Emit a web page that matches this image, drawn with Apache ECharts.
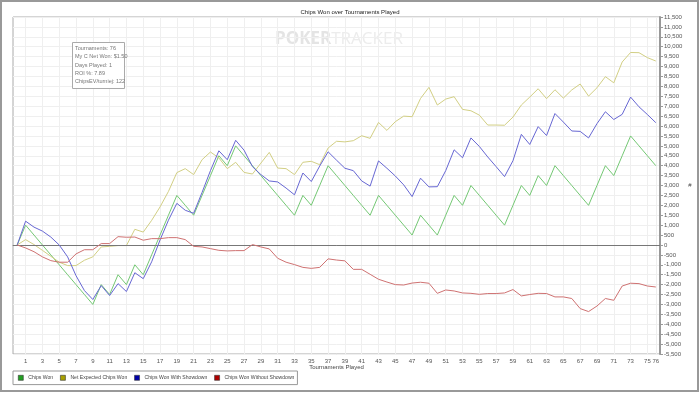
<!DOCTYPE html>
<html><head><meta charset="utf-8">
<script src="https://cdn.jsdelivr.net/npm/echarts@6/dist/echarts.min.js"></script>
<style>html,body{margin:0;padding:0;background:#fff}#c{width:700px;height:393px}</style>
</head><body><div id="c"></div>
<script>
const tournaments = Array.from({length: 77}, (_, i) => String(i));
const shownTicks = [1,3,5,7,9,11,13,15,17,19,21,23,25,27,29,31,33,35,37,39,41,43,45,47,49,51,53,55,57,59,61,63,65,67,69,71,73,75,76];

const chipsWon = [0,1000,500,0,-500,-1000,-1500,-2000,-2500,-3000,-2000,-2500,-1500,-2000,-1000,-1500,-500,500,1500,2500,
  2000,1500,2500,3500,4500,4000,5000,4500,4000,3500,3000,2500,2000,1500,2500,2000,3000,4000,3500,3000,
  2500,2000,1500,2500,2000,1500,1000,500,1500,1000,500,1500,2500,2000,3000,2500,2000,1500,1000,2000,
  3000,2500,3500,3000,4000,3500,3000,2500,2000,3000,4000,3500,4500,5500,5000,4500,4000];
const netExpected = [0,270,20,-270,-570,-870,-1040,-1040,-770,-600,-100,-70,-30,-30,790,650,1240,1920,2700,3650,
  3850,3550,4300,4690,4390,3850,4170,3660,3580,4130,4670,3880,3850,3550,4170,4220,4050,4890,5230,5200,
  5260,5510,5380,6180,5780,6220,6500,6470,7390,7950,7060,7360,7480,6840,6770,6550,6050,6050,6040,6450,
  7060,7460,7880,7380,7830,7410,7820,8120,7510,7930,8490,8180,9230,9710,9700,9450,9280];
const withShowdown = [0,1200,900,700,400,0,-600,-1550,-2300,-2750,-2050,-2550,-1950,-2350,-1400,-1700,-850,250,1250,2100,
  1750,1600,2650,3750,4750,4300,5280,4780,3950,3550,3230,3180,2870,2530,3630,3200,3980,4700,4280,3870,
  3750,3230,2970,4240,3870,3480,3030,2440,3370,2930,2940,3750,4800,4400,5400,4970,4440,3950,3450,4250,
  5580,5070,5970,5520,6630,6200,5750,5730,5400,6120,6720,6330,6590,7460,6970,6580,6170];
const withoutShowdown = [0,-150,-340,-600,-790,-870,-870,-450,-240,-240,70,70,420,390,400,240,320,320,370,370,
  270,-70,-100,-185,-270,-300,-285,-285,20,-100,-200,-670,-870,-990,-1130,-1180,-1130,-700,-760,-800,
  -1230,-1230,-1480,-1730,-1870,-2000,-2020,-1920,-1880,-1930,-2440,-2270,-2320,-2420,-2440,-2490,-2450,-2450,-2420,-2250,
  -2570,-2500,-2440,-2450,-2620,-2620,-2700,-3210,-3360,-3080,-2700,-2790,-2070,-1930,-1950,-2070,-2120];

const seriesNames = ['Chips Won','Net Expected Chips Won','Chips Won With Showdown','Chips Won Without Showdown'];
const infoLines = ['Tournaments: 76','My C Net Won: $1.50','Days Played: 1','ROI %: 7.89','ChipsEV/turniej: 122'];

const FF = 'Liberation Sans, Arial, sans-serif';
const lineColors = ['#74c874','#d2cf84','#6767d3','#cf7272'];
const legendColors = ['#22a022','#a8a000','#0000a8','#b00000'];
const tickFn = (idx) => shownTicks.indexOf(idx) !== -1;

const chart = echarts.init(document.getElementById('c'), null, {renderer: 'canvas'});
const datasets = [chipsWon, netExpected, withShowdown, withoutShowdown];

chart.setOption({
  animation: false,
  backgroundColor: '#fff',
  title: {
    text: 'Chips Won over Tournaments Played', left: 'center', top: 4,
    textStyle: {fontSize: 6, fontWeight: 'normal', color: '#222', fontFamily: FF}
  },
  grid: {left: 13, right: 40, top: 17, bottom: 39, show: true, borderColor: '#aaa', borderWidth: 1, containLabel: false},
  legend: {
    left: 13, top: 371, icon: 'rect', itemWidth: 5, itemHeight: 5, itemGap: 7,
    borderColor: '#999', borderWidth: 1, padding: [4, 3, 4, 5],
    textStyle: {fontSize: 5.1, color: '#444', fontFamily: FF},
    data: seriesNames.map((n, i) => ({name: n, itemStyle: {color: legendColors[i], borderColor: '#333', borderWidth: 0.6}}))
  },
  xAxis: {
    type: 'category', data: tournaments, boundaryGap: true,
    name: 'Tournaments Played', nameLocation: 'middle', nameGap: 10, nameMoveOverlap: false,
    nameTextStyle: {fontSize: 6, color: '#444', fontFamily: FF},
    axisLine: {lineStyle: {color: '#999', width: 1}},
    axisTick: {alignWithLabel: true, interval: tickFn, length: 3, lineStyle: {color: '#999'}},
    axisLabel: {interval: tickFn, fontSize: 6, color: '#555', margin: 4, fontFamily: FF},
    splitLine: {show: true, interval: tickFn, alignWithLabel: true, lineStyle: {color: '#efefef', width: 1}}
  },
  yAxis: {
    type: 'value', position: 'right', min: -5500, max: 11500, interval: 500,
    name: '#', nameLocation: 'middle', nameGap: 24, nameRotate: 0,
    nameTextStyle: {fontSize: 6, color: '#444', fontFamily: FF},
    axisLine: {show: true, lineStyle: {color: '#999', width: 2}},
    axisTick: {show: true, length: 3, lineStyle: {color: '#999'}},
    axisLabel: {fontSize: 6, color: '#555', margin: 4, fontFamily: FF,
      formatter: v => v.toLocaleString('en-US')},
    splitLine: {show: true, lineStyle: {color: '#efefef', width: 1}}
  },
  graphic: [
    {type: 'rect', shape: {x: 1, y: 1, width: 697, height: 390}, style: {fill: 'none', stroke: '#999', lineWidth: 2}, silent: true},
    {type: 'text', left: 275, top: 31, z: 0, silent: true,
      style: {text: '{a|POKER}{b|TRACKER}', rich: {
        a: {fontSize: 17, fontWeight: 'bold', fill: '#e4e4e4', fontFamily: 'Open Sans, sans-serif'},
        b: {fontSize: 17, fill: '#ececec', fontFamily: 'Open Sans, sans-serif'}}}},
    {type: 'rect', shape: {x: 72.5, y: 42.5, width: 52, height: 46}, style: {fill: '#fff', stroke: '#aaa', lineWidth: 1}, z: 10, silent: true},
    {type: 'text', x: 75, y: 44, z: 11, silent: true,
      style: {text: infoLines.join('\n'), fontSize: 5.5, lineHeight: 8.4, fill: '#777', fontFamily: FF}}
  ],
  series: datasets.map((d, i) => ({
    name: seriesNames[i], type: 'line', data: d, symbol: 'none', showSymbol: false,
    lineStyle: {color: lineColors[i], width: 1}, itemStyle: {color: lineColors[i]},
    z: 3 + i,
    markLine: i === 0 ? {silent: true, symbol: 'none', label: {show: false},
      lineStyle: {color: '#777', type: 'solid', width: 1}, data: [{yAxis: 0}]} : undefined
  }))
});
</script></body></html>
